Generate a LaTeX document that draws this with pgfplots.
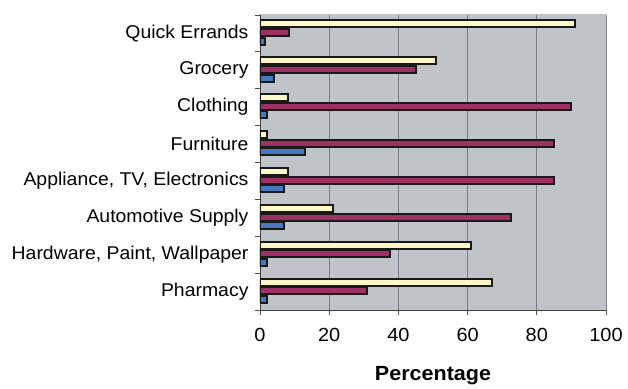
\documentclass[border=0pt]{standalone}
\usepackage{pgfplots}
\pgfplotsset{compat=1.18}
\usepackage{fontspec}
\setmainfont{Liberation Sans}[FakeStretch=1.05]
\definecolor{cream}{RGB}{252,248,200}
\definecolor{maroonc}{RGB}{158,48,98}
\definecolor{bblue}{RGB}{70,120,190}
\definecolor{wall}{RGB}{192,196,200}
\definecolor{gridc}{RGB}{120,126,134}
\begin{document}
\begin{tikzpicture}[font=\fontsize{18.5bp}{22bp}\selectfont]
\begin{axis}[
  at={(0,0)}, anchor=south west,
  scale only axis, width=346bp, height=295bp,
  xbar, bar width=7bp,
  xmin=0, xmax=100, ymin=-0.5, ymax=7.5,
  xtick={0,20,...,100},
  ytick={0,...,7},
  yticklabels={Pharmacy,{Hardware, Paint, Wallpaper},Automotive Supply,{Appliance, TV, Electronics},Furniture,Clothing,Grocery,Quick Errands},
  minor ytick={-0.5,0.5,...,7.5},
  major y tick style={draw=none},
  minor y tick style={black!70, line width=0.8bp},
  major x tick style={black!70, line width=0.8bp},
  major tick length=5bp, minor tick length=5bp,
  tick align=outside, tick pos=left,
  axis lines*=left,
  axis line style={black!75, line width=0.8bp},
  xmajorgrids, grid style={gridc, line width=0.9bp},
  axis background/.style={fill=wall},
  /pgf/number format/assume math mode=true,
  ticklabel style={font=\fontsize{18.5bp}{22bp}\selectfont},
  yticklabel style={xshift=-3bp},
  xticklabel style={yshift=-10bp, font=\fontsize{19bp}{22bp}\selectfont},
  xlabel={Percentage},
  xlabel style={font=\fontsize{20.5bp}{24bp}\selectfont\bfseries, yshift=-18bp},
]
\fill[wall] (rel axis cs:1,0) rectangle ([xshift=6bp,yshift=6bp]rel axis cs:1,1);
\fill[wall] (rel axis cs:0,1) rectangle ([xshift=6bp,yshift=6bp]rel axis cs:1,1);
\draw[gridc, line width=0.8bp] ([xshift=6bp,yshift=6bp]rel axis cs:0,1) -- ([xshift=6bp,yshift=6bp]rel axis cs:1,1) -- ([xshift=6bp]rel axis cs:1,0) -- (rel axis cs:1,0);
\addplot[bar shift=9.5bp, fill=cream, draw=black!90, line width=2bp] coordinates {(67,0) (61,1) (21,2) (8,3) (2,4) (8,5) (51,6) (91,7)};
\addplot[bar shift=0.7bp, fill=maroonc, draw=black!90, line width=2bp] coordinates {(31,0) (37.5,1) (72.5,2) (85,3) (85,4) (90,5) (45,6) (8.5,7)};
\addplot[bar shift=-7.8bp, fill=bblue, draw=black!90, line width=2bp] coordinates {(2,0) (2,1) (7,2) (7,3) (13,4) (2,5) (4,6) (1.5,7)};
\end{axis}
\path (-260bp,-73bp) rectangle (368bp,310bp);
\end{tikzpicture}
\end{document}
